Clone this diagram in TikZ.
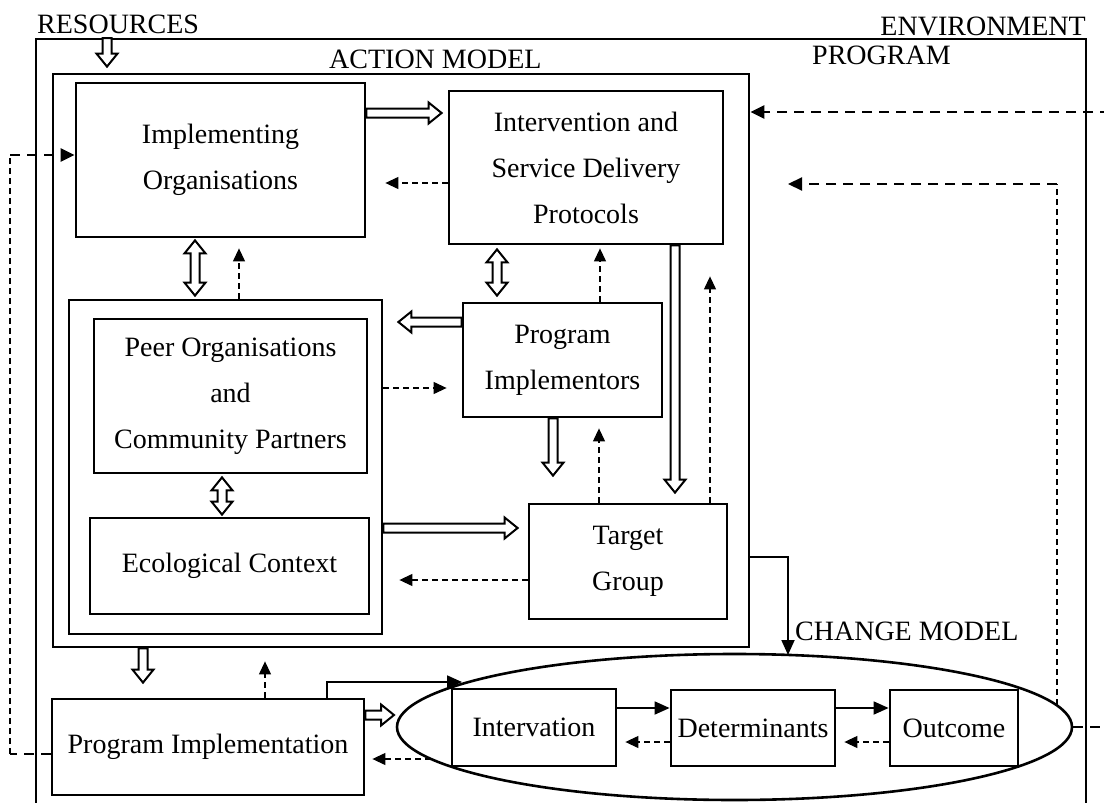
\documentclass[tikz,border=0pt]{standalone}
\usepackage{fontspec}
\setmainfont{Liberation Serif}
\usetikzlibrary{arrows.meta,calc,shapes.geometric}
\newcommand\mybox[6]{\node[box, minimum width={(#4-#2)*1pt}, minimum height={(#5-#3)*1pt}] (#1) at ({(#2+#4)/2},{(#3+#5)/2}) {#6};}
\newcommand\hollowarr[2]{%
  \coordinate (ha) at #1; \coordinate (hb) at #2;
  \coordinate (hc) at ($(hb)!13pt!(ha)$);
  \draw[hollow] ($(ha)!4.5pt!90:(hb)$) -- ($(hc)!4.5pt!-90:(ha)$) -- ($(hc)!10.5pt!-90:(ha)$) -- (hb) -- ($(hc)!10.5pt!90:(ha)$) -- ($(hc)!4.5pt!90:(ha)$) -- ($(ha)!4.5pt!-90:(hb)$) -- cycle;}
\newcommand\hollowdbl[2]{%
  \coordinate (ha) at #1; \coordinate (hb) at #2;
  \coordinate (hc) at ($(hb)!13pt!(ha)$); \coordinate (hd) at ($(ha)!13pt!(hb)$);
  \draw[hollow] (ha) -- ($(hd)!10.5pt!90:(hb)$) -- ($(hd)!4.5pt!90:(hb)$) -- ($(hc)!4.5pt!-90:(ha)$) -- ($(hc)!10.5pt!-90:(ha)$) -- (hb) -- ($(hc)!10.5pt!90:(ha)$) -- ($(hc)!4.5pt!90:(ha)$) -- ($(hd)!4.5pt!-90:(hb)$) -- ($(hd)!10.5pt!-90:(hb)$) -- cycle;}
\begin{document}
\begin{tikzpicture}[x=1pt,y=-1pt,
  box/.style={draw, line width=2.8pt, rectangle, inner sep=0pt, align=center, font=\fontsize{28}{46}\selectfont},
  lbl/.style={inner sep=0pt, font=\fontsize{28}{34}\selectfont},
  hollow/.style={draw, line width=2pt, fill=white, line join=miter},
  thindash/.style={line width=1.2pt, dash pattern=on 6pt off 4pt, -{Triangle[length=13pt,width=12pt]}},
  thinline/.style={line width=1.2pt, dash pattern=on 6pt off 4pt},
  meddash/.style={line width=2.2pt, dash pattern=on 10pt off 7pt, -{Triangle[length=14pt,width=13pt]}},
  thickdash/.style={line width=2.4pt, dash pattern=on 10pt off 7pt, -{Triangle[length=14pt,width=13pt]}},
  thickline/.style={line width=2.4pt, dash pattern=on 10pt off 7pt},
  solidarr/.style={line width=1.8pt, -{Triangle[length=15pt,width=13pt]}}
]
\useasboundingbox (0,0) rectangle (1104,803);
\clip (0,0) rectangle (1104,803);
% frames
\node[draw, line width=2.4pt, inner sep=0pt, minimum width=1050pt, minimum height=800pt, anchor=north west] (env) at (35,38) {};
\mybox{action}{53}{74}{749}{647}{}
\mybox{peerouter}{69}{300}{382}{634}{}
% boxes
\mybox{implorg}{76}{83}{365}{237}{Implementing\\Organisations}
\mybox{interv}{449}{91}{723}{244}{Intervention and\\Service Delivery\\Protocols}
\mybox{peer}{94}{319}{367}{473}{Peer Organisations\\and\\Community Partners}
\mybox{eco}{90}{518}{369}{614}{Ecological Context}
\mybox{progimp}{463}{303}{662}{417}{Program\\Implementors}
\mybox{target}{529}{504}{727}{619}{Target\\Group}
\mybox{proimpl}{52}{699}{364}{795}{Program Implementation}
\node[draw, ellipse, line width=2.6pt, inner sep=0pt, minimum width=675pt, minimum height=146pt] (chg) at (734.5,727) {};
\mybox{intervation}{452}{689}{616}{766}{Intervation}
\mybox{determ}{671}{690}{835}{766}{Determinants}
\mybox{outcome}{890}{690}{1018}{766}{Outcome}
% labels
\node[lbl, anchor=base west] (resl) at (37,34) {RESOURCES};
\node[lbl, anchor=base east] (envl) at (1086,35) {ENVIRONMENT};
\node[lbl, anchor=base west] (actl) at (329,68) {ACTION MODEL};
\node[lbl, anchor=base west] (progl) at (812,64) {PROGRAM};
\node[lbl, anchor=base west] (chgl) at (795,640) {CHANGE MODEL};
% hollow arrows
\hollowarr{(env.north -| 107,0)}{($(action.north -| 107,0)+(0,-6)$)}
\hollowarr{(implorg.east |- 0,113)}{($(interv.west |- 0,113)+(-6,0)$)}
\hollowdbl{($(implorg.south -| 195,0)+(0,2)$)}{($(peerouter.north -| 195,0)+(0,-3)$)}
\hollowdbl{($(interv.south -| 497,0)+(0,4)$)}{($(progimp.north -| 497,0)+(0,-6)$)}
\hollowarr{(progimp.west |- 0,322)}{($(peerouter.east |- 0,322)+(15,0)$)}
\hollowdbl{($(peer.south -| 222,0)+(0,3)$)}{($(eco.north -| 222,0)+(0,-2)$)}
\hollowarr{(progimp.south -| 553,0)}{($(target.north -| 553,0)+(0,-27)$)}
\hollowarr{(interv.south -| 675,0)}{($(target.north -| 675,0)+(0,-10)$)}
\hollowarr{(peerouter.east |- 0,528)}{($(target.west |- 0,528)+(-10,0)$)}
\hollowarr{(action.south -| 143,0)}{($(proimpl.north -| 143,0)+(0,-15)$)}
\hollowarr{(proimpl.east |- 0,715)}{(394,715)}
% thin dashed feedback arrows
\draw[thindash] (interv.west |- 0,183) -- ($(implorg.east |- 0,183)+(19,0)$);
\draw[thindash] (peerouter.north -| 239,0) -- ($(implorg.south -| 239,0)+(0,10)$);
\draw[thindash] (progimp.north -| 600,0) -- ($(interv.south -| 600,0)+(0,3)$);
\draw[thindash] (target.north -| 599,0) -- ($(progimp.south -| 599,0)+(0,10)$);
\draw[thindash] (target.north -| 710,0) -- ($(interv.south -| 710,0)+(0,31)$);
\draw[thindash] (peerouter.east |- 0,388) -- ($(progimp.west |- 0,388)+(-15,0)$);
\draw[thindash] (target.west |- 0,580) -- ($(peerouter.east |- 0,580)+(16,0)$);
\draw[thindash] (proimpl.north -| 265,0) -- ($(action.south -| 265,0)+(0,13)$);
\coordinate (chgleft) at (431,759);
\draw[thindash] (chgleft) -- ($(proimpl.east |- 0,759)+(7,0)$);
\draw[thindash] (determ.west |- 0,742) -- ($(intervation.east |- 0,742)+(8,0)$);
\draw[thindash] (outcome.west |- 0,742) -- ($(determ.east |- 0,742)+(8,0)$);
% solid arrows
\draw[solidarr] (intervation.east |- 0,708) -- (determ.west |- 0,708);
\draw[solidarr] (determ.east |- 0,708) -- (outcome.west |- 0,708);
\coordinate (chgtop) at (788,655);
\draw[solidarr] (action.east |- 0,557) -| (chgtop);
\coordinate (chgtl) at (462,682);
\draw[solidarr] (proimpl.north -| 327,0) |- (chgtl);
% outer loops
\coordinate (rloopb) at (1057,705);
\coordinate (rloopt) at (1057,184);
\coordinate (rlooptip) at (788,184);
\draw[thinline] (rloopb) -- (rloopt);
\draw[meddash] (rloopt) -- (rlooptip);
\coordinate (envout) at (1110,112);
\draw[thickdash] (envout) -- (action.east |- envout);
\coordinate (chgout) at (1110,727);
\draw[thickline] (chg.east) -- (chgout);
\coordinate (lb) at (10,754);
\coordinate (lt) at (10,155);
\draw[thickline] (proimpl.west |- lb) -- (lb);
\draw[thinline] (lb) -- (lt);
\draw[thickdash] (lt) -- (implorg.west |- lt);
\end{tikzpicture}
\end{document}
